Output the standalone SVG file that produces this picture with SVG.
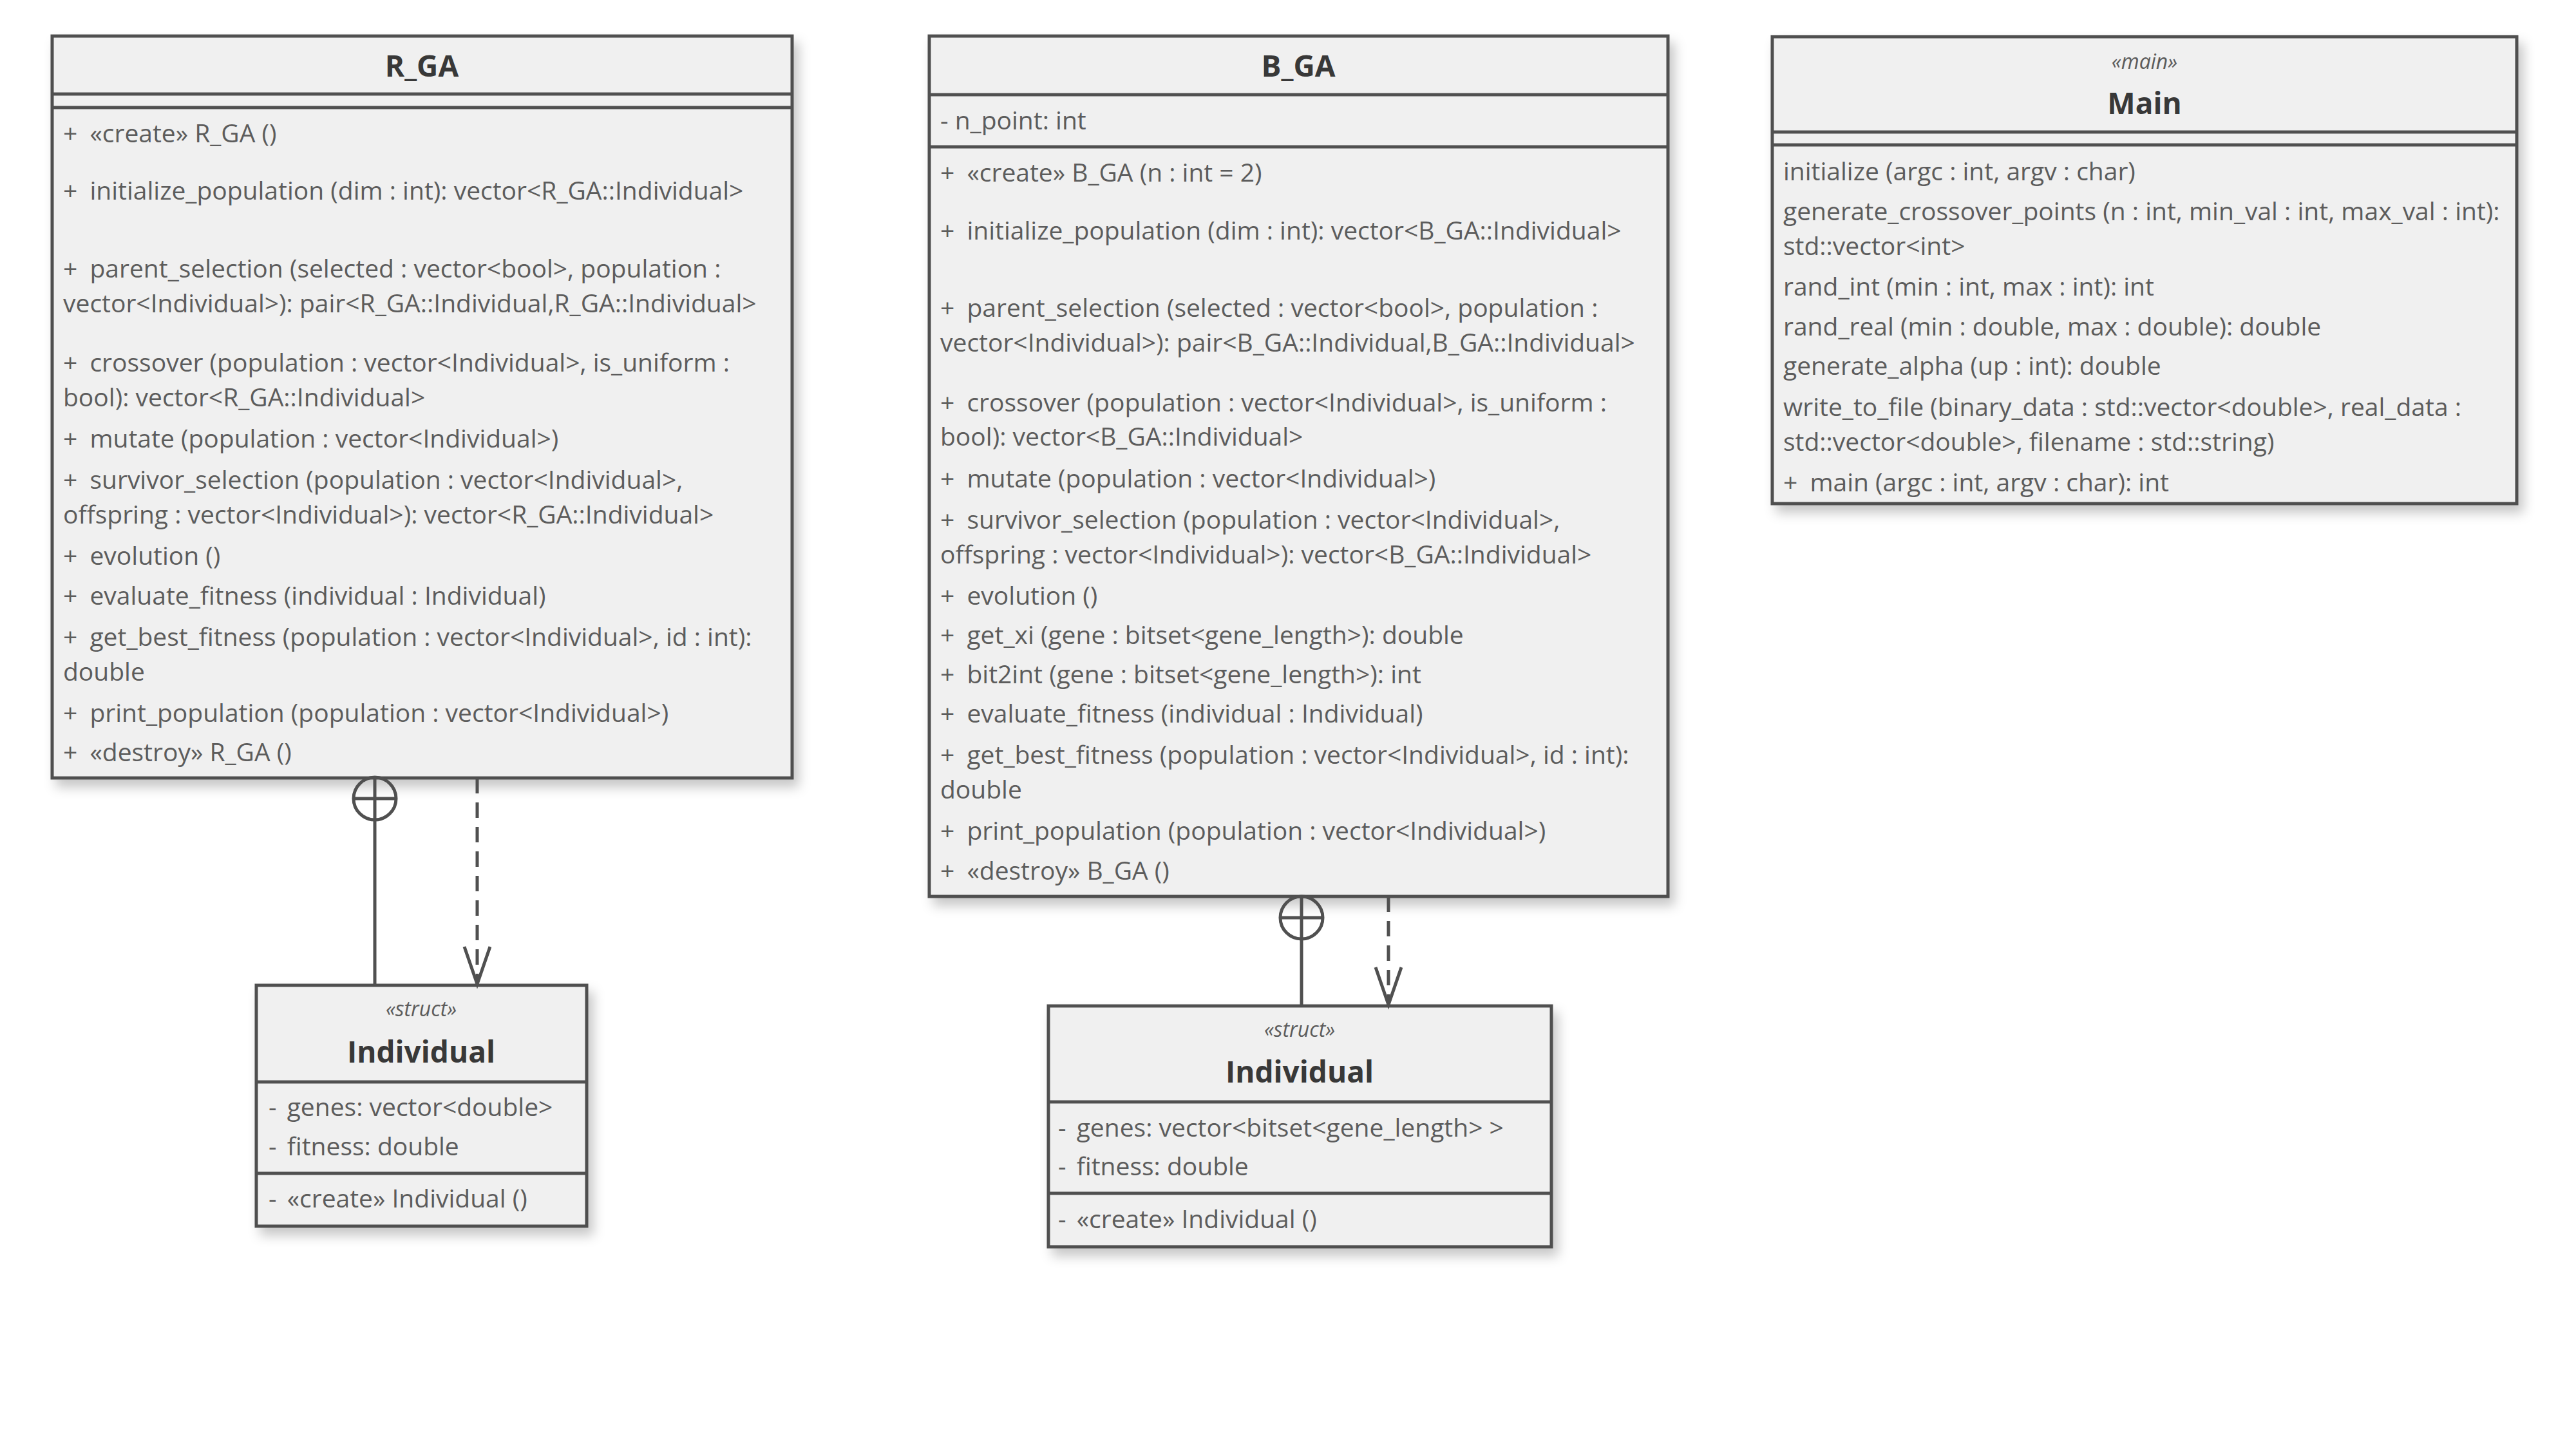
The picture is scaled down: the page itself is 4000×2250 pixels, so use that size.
<svg xmlns="http://www.w3.org/2000/svg" width="4000" height="2250" viewBox="0 0 4000 2250">
<defs>
<filter id="sh" x="-5%" y="-5%" width="115%" height="115%">
<feDropShadow dx="8" dy="12" stdDeviation="9" flood-color="#000" flood-opacity="0.22"/>
</filter>
<marker id="open" markerUnits="userSpaceOnUse" markerWidth="70" markerHeight="50" refX="60" refY="22" orient="auto">
<path d="M2,2 L60,22 L2,42" fill="none" stroke="#505050" stroke-width="5" stroke-dasharray="none"/>
</marker>
</defs>
<style>
.box{fill:#f0f0f0;stroke:#505050;stroke-width:5}
.sep{stroke:#505050;stroke-width:5}
.t{font-family:"Open Sans","Noto Sans",sans-serif;font-size:39px;fill:#5c5c5c}
.ti{font-family:"Open Sans","Noto Sans",sans-serif;font-size:46px;font-weight:bold;fill:#383838;text-anchor:middle}
.st{font-family:"Open Sans","Noto Sans",sans-serif;font-size:32px;font-style:italic;fill:#5c5c5c;text-anchor:middle}
.ln{stroke:#505050;stroke-width:5;fill:none}
.dash{stroke:#505050;stroke-width:5;fill:none;stroke-dasharray:24 14}
</style>
<rect width="4000" height="2250" fill="#ffffff"/>

<g id="R_GA">
<rect class="box" x="81" y="56" width="1149" height="1152" filter="url(#sh)"/>
<line class="sep" x1="81" y1="146" x2="1230" y2="146"/>
<line class="sep" x1="81" y1="167" x2="1230" y2="167"/>
<text class="ti" x="655" y="119">R_GA</text>
<text class="t" x="98" y="221">+<tspan dx="9"> «create» R_GA ()</tspan></text>
<text class="t" x="98" y="310">+<tspan dx="9"> initialize_population (dim : int): vector&lt;R_GA::Individual&gt;</tspan></text>
<text class="t" x="98" y="431">+<tspan dx="9"> parent_selection (selected : vector&lt;bool&gt;, population :</tspan></text>
<text class="t" x="98" y="485">vector&lt;Individual&gt;): pair&lt;R_GA::Individual,R_GA::Individual&gt;</text>
<text class="t" x="98" y="577">+<tspan dx="9"> crossover (population : vector&lt;Individual&gt;, is_uniform :</tspan></text>
<text class="t" x="98" y="631">bool): vector&lt;R_GA::Individual&gt;</text>
<text class="t" x="98" y="695">+<tspan dx="9"> mutate (population : vector&lt;Individual&gt;)</tspan></text>
<text class="t" x="98" y="759">+<tspan dx="9"> survivor_selection (population : vector&lt;Individual&gt;,</tspan></text>
<text class="t" x="98" y="813">offspring : vector&lt;Individual&gt;): vector&lt;R_GA::Individual&gt;</text>
<text class="t" x="98" y="877">+<tspan dx="9"> evolution ()</tspan></text>
<text class="t" x="98" y="939">+<tspan dx="9"> evaluate_fitness (individual : Individual)</tspan></text>
<text class="t" x="98" y="1003">+<tspan dx="9"> get_best_fitness (population : vector&lt;Individual&gt;, id : int):</tspan></text>
<text class="t" x="98" y="1057">double</text>
<text class="t" x="98" y="1121">+<tspan dx="9"> print_population (population : vector&lt;Individual&gt;)</tspan></text>
<text class="t" x="98" y="1182">+<tspan dx="9"> «destroy» R_GA ()</tspan></text>
</g>

<g id="B_GA">
<rect class="box" x="1443" y="56" width="1147" height="1336" filter="url(#sh)"/>
<line class="sep" x1="1443" y1="147" x2="2590" y2="147"/>
<line class="sep" x1="1443" y1="228" x2="2590" y2="228"/>
<text class="ti" x="2016" y="119">B_GA</text>
<text class="t" x="1460" y="201">- n_point: int</text>
<text class="t" x="1460" y="282">+<tspan dx="9"> «create» B_GA (n : int = 2)</tspan></text>
<text class="t" x="1460" y="372">+<tspan dx="9"> initialize_population (dim : int): vector&lt;B_GA::Individual&gt;</tspan></text>
<text class="t" x="1460" y="492">+<tspan dx="9"> parent_selection (selected : vector&lt;bool&gt;, population :</tspan></text>
<text class="t" x="1460" y="546">vector&lt;Individual&gt;): pair&lt;B_GA::Individual,B_GA::Individual&gt;</text>
<text class="t" x="1460" y="639">+<tspan dx="9"> crossover (population : vector&lt;Individual&gt;, is_uniform :</tspan></text>
<text class="t" x="1460" y="692">bool): vector&lt;B_GA::Individual&gt;</text>
<text class="t" x="1460" y="757">+<tspan dx="9"> mutate (population : vector&lt;Individual&gt;)</tspan></text>
<text class="t" x="1460" y="821">+<tspan dx="9"> survivor_selection (population : vector&lt;Individual&gt;,</tspan></text>
<text class="t" x="1460" y="875">offspring : vector&lt;Individual&gt;): vector&lt;B_GA::Individual&gt;</text>
<text class="t" x="1460" y="939">+<tspan dx="9"> evolution ()</tspan></text>
<text class="t" x="1460" y="1000">+<tspan dx="9"> get_xi (gene : bitset&lt;gene_length&gt;): double</tspan></text>
<text class="t" x="1460" y="1061">+<tspan dx="9"> bit2int (gene : bitset&lt;gene_length&gt;): int</tspan></text>
<text class="t" x="1460" y="1122">+<tspan dx="9"> evaluate_fitness (individual : Individual)</tspan></text>
<text class="t" x="1460" y="1186">+<tspan dx="9"> get_best_fitness (population : vector&lt;Individual&gt;, id : int):</tspan></text>
<text class="t" x="1460" y="1240">double</text>
<text class="t" x="1460" y="1304">+<tspan dx="9"> print_population (population : vector&lt;Individual&gt;)</tspan></text>
<text class="t" x="1460" y="1366">+<tspan dx="9"> «destroy» B_GA ()</tspan></text>
</g>

<g id="Main">
<rect class="box" x="2752" y="57" width="1156" height="725" filter="url(#sh)"/>
<line class="sep" x1="2752" y1="205" x2="3908" y2="205"/>
<line class="sep" x1="2752" y1="225" x2="3908" y2="225"/>
<text class="st" x="3330" y="107">«main»</text>
<text class="ti" x="3330" y="177">Main</text>
<text class="t" x="2769" y="280">initialize (argc : int, argv : char)</text>
<text class="t" x="2769" y="342">generate_crossover_points (n : int, min_val : int, max_val : int):</text>
<text class="t" x="2769" y="396">std::vector&lt;int&gt;</text>
<text class="t" x="2769" y="459">rand_int (min : int, max : int): int</text>
<text class="t" x="2769" y="521">rand_real (min : double, max : double): double</text>
<text class="t" x="2769" y="582">generate_alpha (up : int): double</text>
<text class="t" x="2769" y="646">write_to_file (binary_data : std::vector&lt;double&gt;, real_data :</text>
<text class="t" x="2769" y="700">std::vector&lt;double&gt;, filename : std::string)</text>
<text class="t" x="2769" y="763">+<tspan dx="9"> main (argc : int, argv : char): int</tspan></text>
</g>

<g id="R_Individual">
<rect class="box" x="398" y="1530" width="513" height="374" filter="url(#sh)"/>
<line class="sep" x1="398" y1="1680" x2="911" y2="1680"/>
<line class="sep" x1="398" y1="1822" x2="911" y2="1822"/>
<text class="st" x="654" y="1578">«struct»</text>
<text class="ti" x="654" y="1650">Individual</text>
<text class="t" x="417" y="1733">-<tspan dx="6"> genes: vector&lt;double&gt;</tspan></text>
<text class="t" x="417" y="1794">-<tspan dx="6"> fitness: double</tspan></text>
<text class="t" x="417" y="1875">-<tspan dx="6"> «create» Individual ()</tspan></text>
</g>

<g id="B_Individual">
<rect class="box" x="1628" y="1562" width="781" height="374" filter="url(#sh)"/>
<line class="sep" x1="1628" y1="1711" x2="2409" y2="1711"/>
<line class="sep" x1="1628" y1="1853" x2="2409" y2="1853"/>
<text class="st" x="2018" y="1610">«struct»</text>
<text class="ti" x="2018" y="1681">Individual</text>
<text class="t" x="1643" y="1765">-<tspan dx="6"> genes: vector&lt;bitset&lt;gene_length&gt; &gt;</tspan></text>
<text class="t" x="1643" y="1825">-<tspan dx="6"> fitness: double</tspan></text>
<text class="t" x="1643" y="1907">-<tspan dx="6"> «create» Individual ()</tspan></text>
</g>

<g id="connectors">
<circle class="ln" cx="582" cy="1240" r="33"/>
<line class="ln" x1="582" y1="1208" x2="582" y2="1530"/>
<line class="ln" x1="549" y1="1240" x2="615" y2="1240"/>
<line class="dash" x1="741" y1="1208" x2="741" y2="1528" marker-end="url(#open)"/>
<circle class="ln" cx="2021" cy="1425" r="33"/>
<line class="ln" x1="2021" y1="1392" x2="2021" y2="1562"/>
<line class="ln" x1="1988" y1="1425" x2="2054" y2="1425"/>
<line class="dash" x1="2156" y1="1392" x2="2156" y2="1560" marker-end="url(#open)"/>
</g>
</svg>
